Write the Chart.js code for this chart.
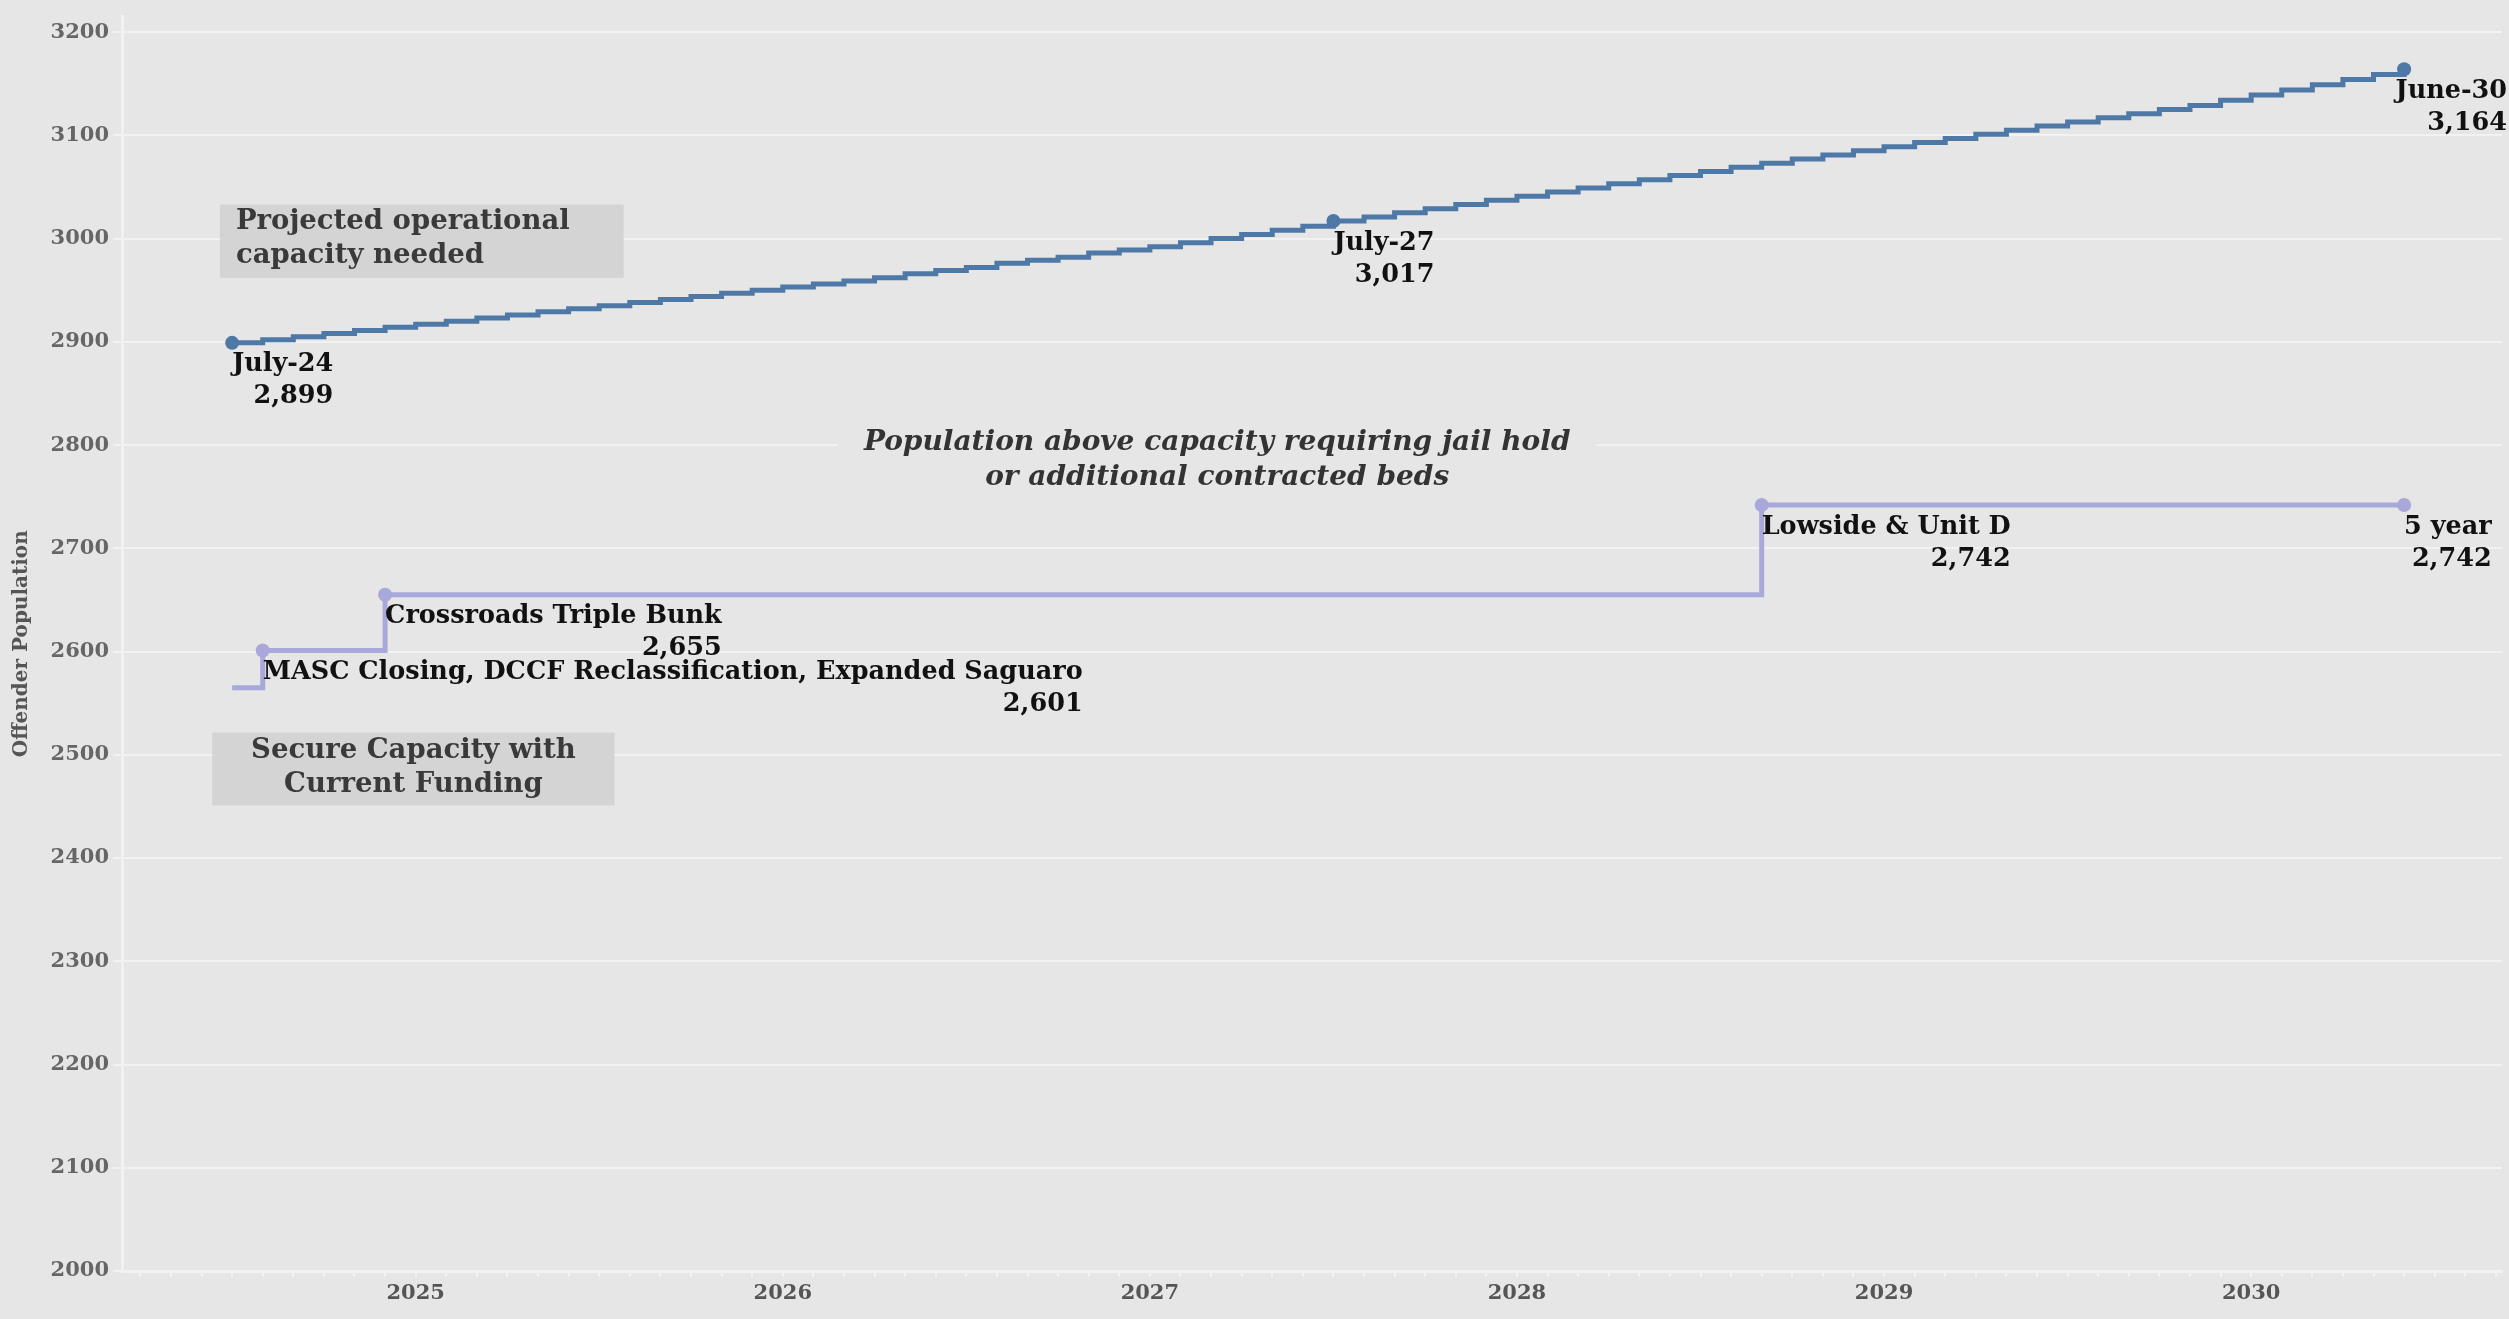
<!DOCTYPE html>
<html>
<head>
<meta charset="utf-8">
<script src="https://cdn.jsdelivr.net/npm/chart.js@4.4.1/dist/chart.umd.min.js"></script>
<style>
  html, body { margin: 0; padding: 0; background: #e6e6e6; }
  #wrap { width: 2509px; height: 1319px; }
</style>
</head>
<body>
<div id="wrap"><canvas id="myChart" width="2509" height="1319"></canvas></div>
<script>
// Projected operational capacity needed (monthly, starting July 2024)
var blueStart = '2024-07';
var blueValues = [
  2899, 2902, 2905, 2908, 2911, 2914,
  2917, 2920, 2923, 2926, 2929, 2932, 2935, 2938, 2941, 2944, 2947, 2950,
  2953, 2956, 2959, 2962, 2966, 2969, 2972, 2976, 2979, 2982, 2986, 2989,
  2992, 2996, 3000, 3004, 3008, 3012, 3017, 3021, 3025, 3029, 3033, 3037,
  3041, 3045, 3049, 3053, 3057, 3061, 3065, 3069, 3073, 3077, 3081, 3085,
  3089, 3093, 3097, 3101, 3105, 3109, 3113, 3117, 3121, 3125, 3129, 3134,
  3139, 3144, 3149, 3154, 3159, 3164
];
var blueLabelMonths = ['2024-07', '2027-07', '2030-06'];
var blueLabelText = ['July-24', 'July-27', 'June-30'];

// Secure capacity with current funding (step changes)
var purpleMonths = ['2024-07', '2024-08', '2024-12', '2028-09', '2030-06'];
var purpleValues = [2565, 2601, 2655, 2742, 2742];
var purpleLabelText = ['', 'MASC Closing, DCCF Reclassification, Expanded Saguaro', 'Crossroads Triple Bunk', 'Lowside & Unit D', '5 year'];

var yTicks = [2000, 2100, 2200, 2300, 2400, 2500, 2600, 2700, 2800, 2900, 3000, 3100, 3200];

// month string -> month index (year*12 + month)
function monthIndex(s) {
  var p = s.split('-');
  return parseInt(p[0], 10) * 12 + parseInt(p[1], 10) - 1;
}

var startIdx = monthIndex(blueStart);
var bluePoints = blueValues.map(function(v, i) { return {x: startIdx + i, y: v}; });
var blueLabelIdx = blueLabelMonths.map(monthIndex);
var blueRadius = bluePoints.map(function(p) { return blueLabelIdx.indexOf(p.x) >= 0 ? 7 : 0; });

var purplePoints = purpleMonths.map(function(m, i) { return {x: monthIndex(m), y: purpleValues[i]}; });
var purpleRadius = purpleLabelText.map(function(t) { return t ? 7 : 0; });

var BLUE = '#4e79a7';
var PURPLE = '#a9a8da';
var GRID = '#f2f2f2';
var labelFont = 'bold 25.5px "DejaVu Serif", serif';
var boxFont = 'bold 27.5px "DejaVu Serif", serif';

function fmt(v) { return v.toLocaleString('en-US'); }

// labels under the marked points
var pointLabels = {
  id: 'pointLabels',
  afterDatasetsDraw: function(chart) {
    var ctx = chart.ctx;
    var xs = chart.scales.x, ys = chart.scales.y;
    var items = [];
    blueLabelIdx.forEach(function(m, i) {
      items.push({x: m, y: blueValues[m - startIdx], t: blueLabelText[i]});
    });
    purplePoints.forEach(function(p, i) {
      if (purpleLabelText[i]) items.push({x: p.x, y: p.y, t: purpleLabelText[i]});
    });
    ctx.save();
    ctx.font = labelFont;
    ctx.fillStyle = '#111';
    ctx.textBaseline = 'middle';
    ctx.textAlign = 'right';
    items.forEach(function(it) {
      var px = xs.getPixelForValue(it.x), py = ys.getPixelForValue(it.y);
      var v = fmt(it.y);
      var w = Math.max(ctx.measureText(it.t).width, ctx.measureText(v).width);
      var left = px;
      if (left + w > chart.width - 2) left = chart.width - 2 - w;
      ctx.fillText(it.t, left + w, py + 22);
      ctx.fillText(v, left + w, py + 54);
    });
    ctx.restore();
  }
};

// grey boxes and the italic note
var notes = {
  id: 'notes',
  afterDatasetsDraw: function(chart) {
    var ctx = chart.ctx;
    var xs = chart.scales.x, ys = chart.scales.y;
    var X = function(v) { return xs.getPixelForValue(v); };
    var Y = function(v) { return ys.getPixelForValue(v); };
    ctx.save();
    ctx.textBaseline = 'middle';

    // Projected operational capacity needed
    var x0 = X(24293.6), x1 = X(24306.8), y0 = Y(3033), y1 = Y(2962);
    ctx.fillStyle = '#d4d4d4';
    ctx.fillRect(x0, y0, x1 - x0, y1 - y0);
    ctx.fillStyle = '#3a3a3a';
    ctx.font = boxFont;
    ctx.textAlign = 'left';
    ctx.fillText('Projected operational', x0 + 16, y0 + 17);
    ctx.fillText('capacity needed', x0 + 16, y0 + 51);

    // Secure Capacity with Current Funding
    x0 = X(24293.35); x1 = X(24306.5); y0 = Y(2521.5); y1 = Y(2451);
    ctx.fillStyle = '#d4d4d4';
    ctx.fillRect(x0, y0, x1 - x0, y1 - y0);
    ctx.fillStyle = '#3a3a3a';
    ctx.textAlign = 'center';
    ctx.fillText('Secure Capacity with', (x0 + x1) / 2, y0 + 18);
    ctx.fillText('Current Funding', (x0 + x1) / 2, y0 + 52);

    // Population above capacity
    ctx.font = 'italic bold 28px "DejaVu Serif", serif';
    var cx = X(24326.2), l1 = Y(2802.5), l2 = Y(2768.5);
    var t1 = 'Population above capacity requiring jail hold';
    var t2 = 'or additional contracted beds';
    var w = ctx.measureText(t1).width;
    ctx.fillStyle = '#e6e6e6';
    ctx.fillRect(cx - w / 2 - 26, l1 - 18, w + 52, l2 - l1 + 36);
    ctx.fillStyle = '#333';
    ctx.fillText(t1, cx, l1);
    ctx.fillText(t2, cx, l2);
    ctx.restore();
  }
};

var ctx = document.getElementById('myChart').getContext('2d');
var myChart = new Chart(ctx, {
  type: 'line',
  data: {
    datasets: [{
      label: 'Projected operational capacity needed',
      data: bluePoints,
      borderColor: BLUE,
      backgroundColor: BLUE,
      borderWidth: 5,
      stepped: 'before',
      pointRadius: blueRadius,
      pointHoverRadius: blueRadius,
      pointBorderWidth: 0
    }, {
      label: 'Secure Capacity with Current Funding',
      data: purplePoints,
      borderColor: PURPLE,
      backgroundColor: PURPLE,
      borderWidth: 5,
      stepped: 'before',
      pointRadius: purpleRadius,
      pointHoverRadius: purpleRadius,
      pointBorderWidth: 0
    }]
  },
  options: {
    responsive: false,
    devicePixelRatio: 1,
    animation: false,
    layout: { padding: { top: 0, right: 0, left: 0, bottom: 0 } },
    plugins: {
      legend: { display: false },
      tooltip: { enabled: false }
    },
    scales: {
      x: {
        type: 'linear',
        min: 24290.4,
        max: 24368.2,
        afterBuildTicks: function(s) {
          var t = [];
          for (var m = Math.ceil(s.min); m <= Math.floor(s.max); m++) t.push({value: m});
          s.ticks = t;
        },
        afterFit: function(s) { s.height = 48; },
        grid: { drawOnChartArea: false, color: GRID, lineWidth: 2, tickLength: 6 },
        border: { color: GRID, width: 3 },
        ticks: {
          autoSkip: false,
          maxRotation: 0,
          padding: 4,
          color: '#555',
          font: { family: 'DejaVu Serif', weight: 'bold', size: 21 },
          callback: function(v) { return v % 12 === 0 ? String(v / 12) : ''; }
        }
      },
      y: {
        min: 2000,
        max: 3215,
        afterBuildTicks: function(s) {
          s.ticks = yTicks.map(function(v) { return {value: v}; });
        },
        afterFit: function(s) { s.width = 122; },
        grid: { color: GRID, lineWidth: 2, tickLength: 9 },
        border: { color: GRID, width: 3 },
        ticks: {
          padding: 4,
          color: '#666',
          font: { family: 'DejaVu Serif', weight: 'bold', size: 21 },
          callback: function(v) { return String(v); }
        },
        title: {
          display: true,
          text: 'Offender Population',
          color: '#555',
          padding: { top: 10, bottom: 0 },
          font: { family: 'DejaVu Serif', weight: 'bold', size: 20 }
        }
      }
    }
  },
  plugins: [notes, pointLabels]
});
</script>
</body>
</html>
